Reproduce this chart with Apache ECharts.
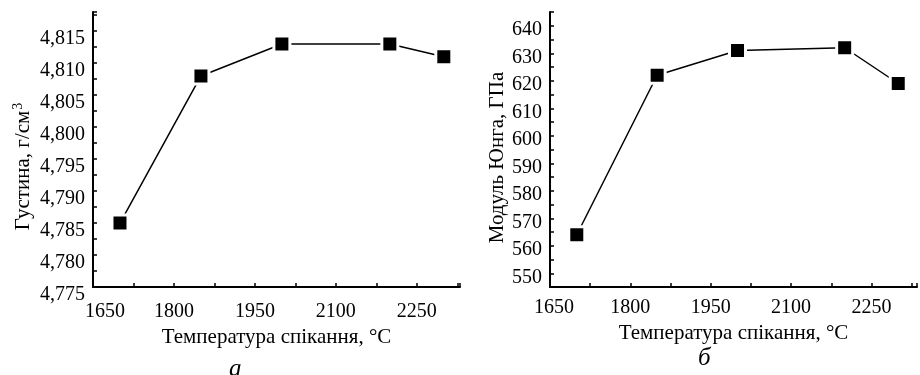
<!DOCTYPE html>
<html>
<head>
<meta charset="utf-8">
<script src="https://cdn.jsdelivr.net/npm/echarts@6/dist/echarts.min.js"></script>
<style>
  html, body { margin: 0; padding: 0; background: #fff; }
  #chart { width: 920px; height: 375px; }
</style>
</head>
<body>
<div id="chart"></div>
<script>
// дані
const temps = [1700, 1850, 2000, 2200, 2300];
const density = [4.785, 4.808, 4.813, 4.813, 4.811];
const modulus = [564, 622, 631, 632, 619];

// підписи осей
const tempTicks = ['1650', '1800', '1950', '2100', '2250'];
const densityTicks = ['4,775', '4,780', '4,785', '4,790', '4,795', '4,800', '4,805', '4,810', '4,815'];
const modulusTicks = ['550', '560', '570', '580', '590', '600', '610', '620', '630', '640'];

const FONT = '"Liberation Serif", "DejaVu Serif", serif';
const chart = echarts.init(document.getElementById('chart'));

function xAxisCfg(gridIndex, max, gap, margin, firstShift) {
  return {
    type: 'value',
    gridIndex: gridIndex,
    min: 1650,
    max: max,
    interval: 75,
    name: 'Температура спікання, °C',
    nameLocation: 'middle',
    nameGap: gap,
    nameTextStyle: { fontFamily: FONT, fontSize: 21, color: '#000' },
    axisLine: { lineStyle: { color: '#000', width: 2 } },
    axisTick: { inside: true, length: 4, lineStyle: { color: '#000', width: 1.5 } },
    axisLabel: {
      fontFamily: FONT, fontSize: 20, color: '#000', margin: margin,
      formatter: v => {
        const s = String(Math.round(v));
        if (!tempTicks.includes(s)) return '';
        return s === tempTicks[0] ? '{f|' + s + '}' : s;
      },
      rich: { f: { fontFamily: FONT, fontSize: 20, color: '#000', padding: [0, 0, 0, firstShift] } }
    },
    splitLine: { show: false }
  };
}

const option = {
  backgroundColor: '#fff',
  animation: false,
  grid: [
    { left: 93, top: 12, width: 367, bottom: 88 },
    { left: 550, top: 12, width: 368, bottom: 88 }
  ],
  xAxis: [xAxisCfg(0, 2330, 40, 15, 24), xAxisCfg(1, 2335, 32, 11, 8)],
  yAxis: [
    {
      type: 'value',
      gridIndex: 0,
      min: 4.775,
      max: 4.818,
      interval: 0.0025,
      name: '{t|Густина, г/см}{s|3}',
      nameLocation: 'middle',
      nameGap: 58,
      nameTextStyle: {
        padding: [0, 34, 0, 0],
        rich: {
          t: { fontFamily: FONT, fontSize: 21, color: '#000' },
          s: { fontFamily: FONT, fontSize: 14, color: '#000', verticalAlign: 'top', padding: [0, 0, 10, 1] }
        }
      },
      axisLine: { lineStyle: { color: '#000', width: 2 } },
      axisTick: { inside: true, length: 4, lineStyle: { color: '#000', width: 1.5 } },
      axisLabel: {
        margin: 8,
        formatter: v => { const s = v.toFixed(3).replace('.', ','); return densityTicks.includes(s) ? '{v|' + s + '}' : ''; },
        rich: { v: { fontFamily: FONT, fontSize: 20, color: '#000', padding: [16, 0, 0, 0] } }
      },
      splitLine: { show: false }
    },
    {
      type: 'value',
      gridIndex: 1,
      min: 545,
      max: 645,
      interval: 5,
      name: 'Модуль Юнга, ГПа',
      nameLocation: 'middle',
      nameGap: 36,
      nameTextStyle: { fontFamily: FONT, fontSize: 21, color: '#000', padding: [0, 16, 0, 0] },
      axisLine: { lineStyle: { color: '#000', width: 2 } },
      axisTick: { inside: true, length: 4, lineStyle: { color: '#000', width: 1.5 } },
      axisLabel: {
        margin: 8,
        formatter: v => { const s = String(Math.round(v)); return modulusTicks.includes(s) ? '{v|' + s + '}' : ''; },
        rich: { v: { fontFamily: FONT, fontSize: 20, color: '#000', padding: [8, 0, 0, 0] } }
      },
      splitLine: { show: false }
    }
  ],
  series: [
    {
      type: 'line',
      xAxisIndex: 0,
      yAxisIndex: 0,
      data: temps.map((t, i) => [t, density[i]]),
      symbol: 'rect',
      symbolSize: 16,
      lineStyle: { color: '#000', width: 1.5 },
      itemStyle: { color: '#000', borderColor: '#fff', borderWidth: 3 }
    },
    {
      type: 'line',
      xAxisIndex: 1,
      yAxisIndex: 1,
      data: temps.map((t, i) => [t, modulus[i]]),
      symbol: 'rect',
      symbolSize: 16,
      lineStyle: { color: '#000', width: 1.5 },
      itemStyle: { color: '#000', borderColor: '#fff', borderWidth: 3 }
    }
  ],
  graphic: [
    { type: 'text', left: 229, top: 357, style: { text: 'а', font: 'italic 25px ' + FONT, fill: '#000' } },
    { type: 'text', left: 698, top: 346, style: { text: 'б', font: 'italic 25px ' + FONT, fill: '#000' } }
  ]
};

chart.setOption(option);
window.addEventListener('resize', () => chart.resize());
</script>
</body>
</html>
